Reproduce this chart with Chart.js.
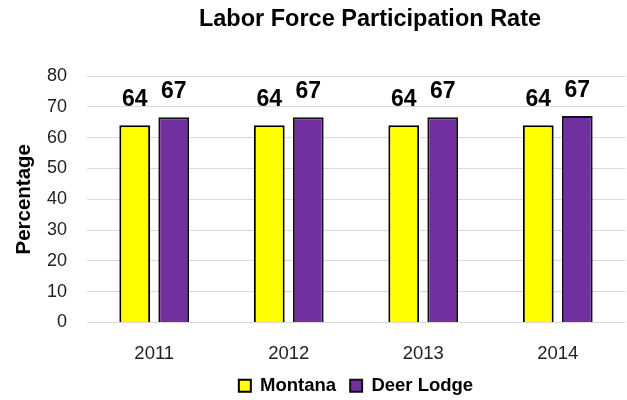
<!DOCTYPE html>
<html>
<head>
<meta charset="utf-8">
<script src="https://cdn.jsdelivr.net/npm/chart.js@4"></script>
<style>
  html, body { margin: 0; padding: 0; background: #fff; }
  #wrap { width: 627px; height: 400px; }
</style>
</head>
<body>
<div id="wrap"><canvas id="myChart" width="627" height="400"></canvas></div>
<script>
// data
const chartTitle = 'Labor Force Participation Rate';
const years = ['2011', '2012', '2013', '2014'];
const montana = [64.0, 64.0, 64.0, 64.0];
const deerLodge = [66.6, 66.6, 66.6, 67.0];
const yMin = 0;
const yMax = 80;
const yStep = 10;

const FONT = "'Liberation Sans', Arial, sans-serif";

// title drawn a bit right of centre, like the original
const titlePlugin = {
  id: 'offTitle',
  afterDraw(chart) {
    const ctx = chart.ctx;
    ctx.save();
    ctx.font = 'bold 23.5px ' + FONT;
    ctx.fillStyle = '#000';
    ctx.textAlign = 'center';
    ctx.textBaseline = 'middle';
    ctx.fillText(chartTitle, 370, 20);
    ctx.restore();
  }
};

// value labels above the bars
const valueLabels = {
  id: 'valueLabels',
  afterDatasetsDraw(chart) {
    const ctx = chart.ctx;
    ctx.save();
    ctx.font = 'bold 23px ' + FONT;
    ctx.fillStyle = '#000';
    ctx.textAlign = 'center';
    ctx.textBaseline = 'alphabetic';
    chart.data.datasets.forEach((ds, i) => {
      chart.getDatasetMeta(i).data.forEach((bar, j) => {
        ctx.fillText(Math.round(ds.data[j]), bar.x, bar.y - 19);
      });
    });
    ctx.restore();
  }
};

const datasets = [
  {
    label: 'Montana',
    data: montana,
    backgroundColor: '#FFFF00',
    borderColor: '#000',
    borderWidth: 2
  },
  {
    label: 'Deer Lodge',
    data: deerLodge,
    backgroundColor: '#7030A0',
    borderColor: '#111',
    borderWidth: 2
  }
];

new Chart(document.getElementById('myChart'), {
  type: 'bar',
  data: { labels: years, datasets },
  plugins: [titlePlugin, valueLabels],
  options: {
    responsive: false,
    animation: false,
    layout: { padding: { top: 76, left: 0, right: 2, bottom: -5 } },
    datasets: {
      bar: { barPercentage: 0.79, categoryPercentage: 0.58 }
    },
    plugins: {
      title: { display: false },
      tooltip: { enabled: false },
      legend: {
        position: 'bottom',
        fullSize: false,
        labels: {
          boxWidth: 12,
          boxHeight: 12,
          padding: 14,
          color: '#000',
          font: { family: FONT, size: 18.5, weight: 'bold' }
        }
      }
    },
    scales: {
      x: {
        grid: { display: false, drawTicks: false },
        border: { display: false },
        ticks: { color: '#222', padding: 20, font: { family: FONT, size: 18.5 } },
        afterFit(scale) { scale.height = 40; }
      },
      y: {
        min: yMin,
        max: yMax,
        grid: { color: '#d9d9d9', drawTicks: false },
        border: { display: false },
        ticks: { stepSize: yStep, color: '#222', padding: 20, font: { family: FONT, size: 18 } },
        title: {
          display: true,
          text: 'Percentage',
          color: '#000',
          padding: { top: 12, bottom: 0 },
          font: { family: FONT, size: 20.5, weight: 'bold' }
        },
        afterFit(scale) { scale.width = 87; }
      }
    }
  }
});
</script>
</body>
</html>
